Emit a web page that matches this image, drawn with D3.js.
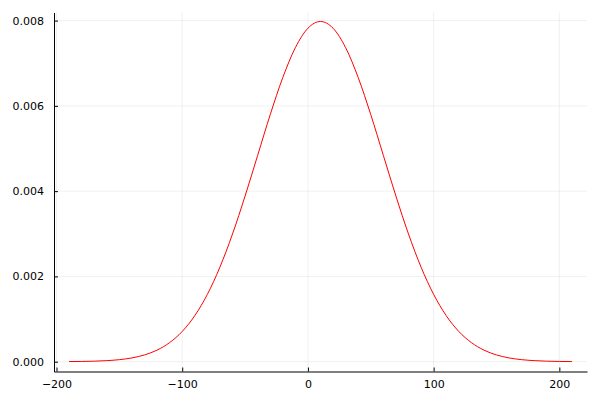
<!DOCTYPE html>
<html>
<head>
<meta charset="utf-8">
<script src="https://cdn.jsdelivr.net/npm/d3@7"></script>
<style>
  body { margin: 0; background: #fff; }
  svg { display: block; font-family: "DejaVu Sans", sans-serif; }
</style>
</head>
<body>
<div id="chart"></div>
<script>
// Values (x every 10 units)
const xValues = [
  -190, -180, -170, -160, -150, -140, -130, -120, -110, -100,
  -90, -80, -70, -60, -50, -40, -30, -20, -10, 0,
  10, 20, 30, 40, 50, 60, 70, 80, 90, 100,
  110, 120, 130, 140, 150, 160, 170, 180, 190, 200, 210
];
const yValues = [
  0.0000027, 0.0000058, 0.0000122, 0.0000247, 0.0000477, 0.0000886, 0.0001583, 0.0002717, 0.0004479, 0.0007095,
  0.0010798, 0.001579, 0.002218, 0.002995, 0.003884, 0.004839, 0.005794, 0.006664, 0.007365, 0.007821,
  0.007979, 0.007821, 0.007365, 0.006664, 0.005794, 0.004839, 0.003884, 0.002995, 0.002218, 0.001579,
  0.0010798, 0.0007095, 0.0004479, 0.0002717, 0.0001583, 0.0000886, 0.0000477, 0.0000247, 0.0000122, 0.0000058, 0.0000027
];
const xTicks = [-200, -100, 0, 100, 200];
const yTicks = [0, 0.002, 0.004, 0.006, 0.008];

const data = xValues.map((x, i) => ({ x, y: yValues[i] }));

const width = 600;
const height = 400;
const marginTop = 12.5;
const marginRight = 13;
const marginBottom = 28.5;
const marginLeft = 54;

const x = d3.scaleLinear()
    .domain([-202, 222])
    .range([marginLeft, width - marginRight]);

const y = d3.scaleLinear()
    .domain([-0.00023, 0.00819])
    .range([height - marginBottom, marginTop]);

const svg = d3.select("#chart")
  .append("svg")
    .attr("width", width)
    .attr("height", height)
    .attr("viewBox", [0, 0, width, height]);

// Grid lines
svg.append("g")
  .selectAll("line")
  .data(xTicks)
  .join("line")
    .attr("x1", d => x(d)).attr("x2", d => x(d))
    .attr("y1", marginTop).attr("y2", height - marginBottom)
    .attr("stroke", "#000").attr("stroke-opacity", 0.1).attr("stroke-width", 0.6);

svg.append("g")
  .selectAll("line")
  .data(yTicks)
  .join("line")
    .attr("x1", marginLeft).attr("x2", width - marginRight)
    .attr("y1", d => y(d)).attr("y2", d => y(d))
    .attr("stroke", "#000").attr("stroke-opacity", 0.1).attr("stroke-width", 0.6);

// Curve
const line = d3.line()
    .x(d => x(d.x))
    .y(d => y(d.y))
    .curve(d3.curveMonotoneX);

svg.append("path")
    .datum(data)
    .attr("fill", "none")
    .attr("stroke", "#ff0000")
    .attr("stroke-width", 1)
    .attr("d", line);

// X axis, ticks point inward
svg.append("g")
    .attr("transform", `translate(0,${height - marginBottom})`)
    .call(d3.axisBottom(x).tickValues(xTicks).tickSizeInner(-4).tickSizeOuter(0).tickPadding(8.5))
    .call(g => g.select(".domain").attr("stroke", "#000"))
    .call(g => g.selectAll("text").attr("font-size", 11).attr("font-family", "DejaVu Sans").attr("fill", "#000"));

// Y axis
svg.append("g")
    .attr("transform", `translate(${marginLeft},0)`)
    .call(d3.axisLeft(y).tickValues(yTicks).tickFormat(d3.format(".3f")).tickSizeInner(-4).tickSizeOuter(0).tickPadding(10))
    .call(g => g.select(".domain").attr("stroke", "#000"))
    .call(g => g.selectAll("text").attr("font-size", 11).attr("font-family", "DejaVu Sans").attr("fill", "#000"));
</script>
</body>
</html>
